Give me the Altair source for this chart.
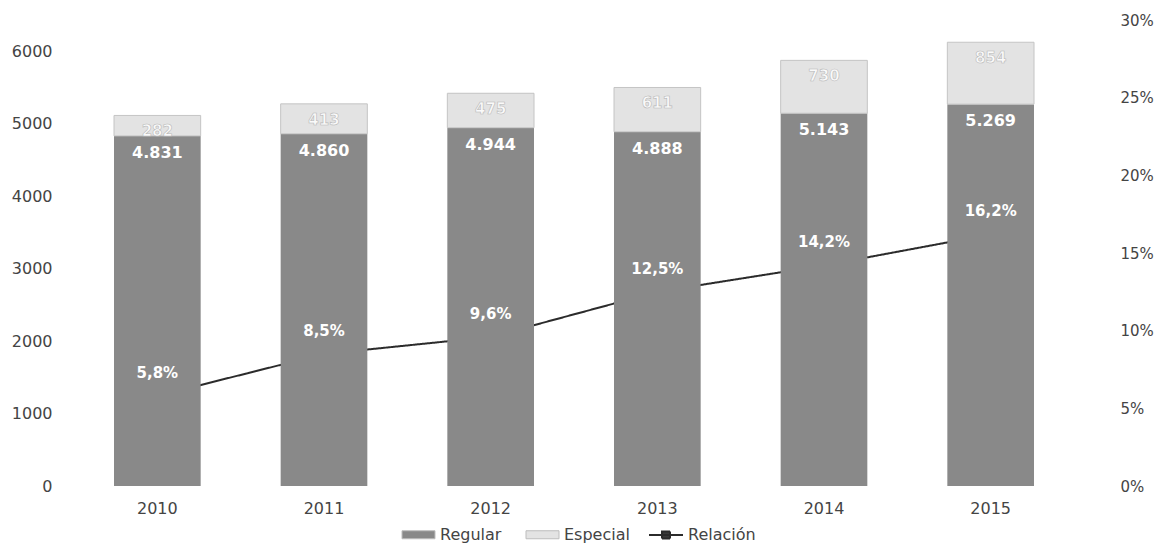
import altair as alt
import pandas as pd

years = ["2010", "2011", "2012", "2013", "2014", "2015"]
regular = [4831, 4860, 4944, 4888, 5143, 5269]
especial = [282, 413, 475, 611, 730, 854]
relacion = [0.058, 0.085, 0.096, 0.125, 0.142, 0.162]
left_ticks = [0, 1000, 2000, 3000, 4000, 5000, 6000]
right_ticks = [0, 0.05, 0.10, 0.15, 0.20, 0.25, 0.30]
bar_series = ["Regular", "Especial"]
line_series = ["Relación"]

df = pd.DataFrame({"year": years, "regular": regular, "especial": especial, "relacion": relacion})

FONT = "DejaVu Sans"
TXT = "#444444"
C_REG = "#898989"
C_ESP = "#e3e3e3"
C_LINE = "#2b2b2b"

color_scale = alt.Scale(domain=bar_series, range=[C_REG, C_ESP])

BOX = "M-1.65,-0.4H1.65V0.4H-1.65Z"
RELP = "M-1.7,0H1.7M-0.4,-0.35H0.4V0.35H-0.4Z"

bar_legend = alt.Legend(
    title=None, orient="none", legendX=334, legendY=504, direction="horizontal",
    symbolType=BOX, symbolSize=400, symbolStrokeColor="#bdbdbd", symbolStrokeWidth=1,
    labelFont=FONT, labelFontSize=16, labelColor=TXT,
    labelOffset=11, columnPadding=22, padding=0,
)
line_legend = alt.Legend(
    title=None, orient="none", legendX=581, legendY=504, direction="horizontal",
    symbolType=RELP, symbolSize=400, symbolStrokeColor=C_LINE, symbolFillColor="#3a3a3a",
    symbolStrokeWidth=2, labelFont=FONT, labelFontSize=16, labelColor=TXT,
    labelOffset=11, padding=0,
)

x = alt.X(
    "year:N",
    axis=alt.Axis(title=None, labelAngle=0, domain=False, ticks=False, labelPadding=14,
                  labelFontSize=16, labelFont=FONT, labelColor=TXT),
    scale=alt.Scale(paddingInner=0.48, paddingOuter=0.24),
)

ybar_scale = alt.Scale(domain=[0, 6430], nice=False, zero=True)
left_axis = alt.Axis(values=left_ticks, orient="left", grid=False, domain=False, ticks=False,
                     labelPadding=22, labelFontSize=16, labelFont=FONT, labelColor=TXT,
                     title=None, format="d")
yrel_scale = alt.Scale(domain=[0, 0.30], nice=False)
right_axis = alt.Axis(values=right_ticks, orient="right", grid=False, domain=False, ticks=False,
                      labelPadding=46, labelAlign="left", labelFontSize=15, labelFont=FONT,
                      labelColor=TXT, title=None, format=".0%")

base = alt.Chart(df).transform_calculate(
    total="datum.regular + datum.especial",
    reg_label="replace(format(datum.regular, ','), ',', '.')",
    esp_label="format(datum.especial, 'd')",
    rel_label="replace(format(datum.relacion, '.1%'), '.', ',')",
).encode(x=x)

line = base.transform_calculate(serie="'Relación'").mark_line(
    strokeWidth=2, color=C_LINE).encode(
    y=alt.Y("relacion:Q", scale=yrel_scale, axis=right_axis),
    strokeDash=alt.StrokeDash("serie:N",
                              scale=alt.Scale(domain=line_series, range=[[1, 0]]),
                              legend=line_legend),
)

reg = base.transform_calculate(serie="'Regular'").mark_bar().encode(
    y=alt.Y("regular:Q", scale=ybar_scale, axis=left_axis, stack=None),
    color=alt.Color("serie:N", scale=color_scale, legend=bar_legend),
)
esp = base.transform_calculate(serie="'Especial'").mark_bar(
    stroke="#c4c4c4", strokeWidth=1).encode(
    y=alt.Y("total:Q", scale=ybar_scale, axis=left_axis, stack=None),
    y2="regular:Q",
    color=alt.Color("serie:N", scale=color_scale, legend=bar_legend),
)
reg_text = base.mark_text(font=FONT, fontSize=16, fontWeight="bold", color="white",
                          dy=17, baseline="middle").encode(
    y=alt.Y("regular:Q", scale=ybar_scale, axis=left_axis, stack=None),
    text="reg_label:N",
)
esp_text = base.mark_text(font=FONT, fontSize=15, fontWeight="bold", color="#fafafa",
                          stroke="#b8b8b8", strokeWidth=0.6, dy=16,
                          baseline="middle").encode(
    y=alt.Y("total:Q", scale=ybar_scale, axis=left_axis, stack=None),
    text="esp_label:N",
)
bars = alt.layer(reg, esp, reg_text, esp_text)

line_text = base.mark_text(font=FONT, fontSize=15, fontWeight="bold", color="white",
                           dy=-23, baseline="middle").encode(
    y=alt.Y("relacion:Q", scale=yrel_scale, axis=None),
    text="rel_label:N",
)

chart = alt.layer(line, bars, line_text).resolve_scale(y="independent").properties(
    width=1000, height=466,
    autosize=alt.AutoSizeParams(type="none"),
    padding={"left": 66, "top": 12, "right": 82, "bottom": 58},
).configure(background="white").configure_view(strokeWidth=0)

chart.save("out.html", embed_options={"renderer": "svg", "actions": False})
